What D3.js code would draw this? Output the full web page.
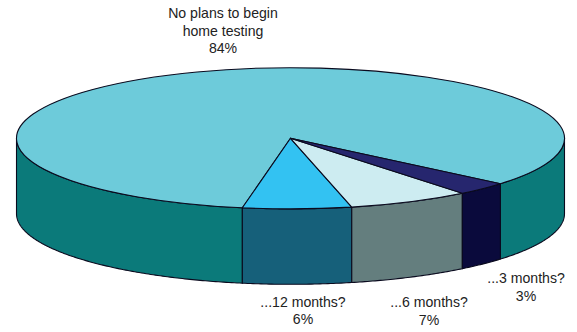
<!DOCTYPE html>
<html><head><meta charset="utf-8">
<script src="https://cdn.jsdelivr.net/npm/d3@7/dist/d3.min.js"></script>
<style>html,body{margin:0;padding:0;background:#fff}svg{display:block}text{font-family:"Liberation Sans",Arial,sans-serif;font-size:14.1px;fill:#222}</style>
</head><body><svg id="c" width="577" height="332"></svg>
<script>
const categories = ["No plans to begin home testing", "...12 months?", "...6 months?", "...3 months?"];
const shownPercent = ["84%", "6%", "7%", "3%"];
const sliceShare = [83.3, 6.4, 7.2, 3.1];
const topColors = ["#6dcbda", "#33c2f2", "#cdecf1", "#26266e"];
const sideColors = ["#0b7a7a", "#16607a", "#647e7e", "#0a0a3c"];
const labelLines = [["No plans to begin", "home testing"], ["...12 months?"], ["...6 months?"], ["...3 months?"]];
const labelAnchors = [[223, 18], [303, 306.5], [429, 307], [526, 283]];

const cx = 290.5, cy = 138.3, rx = 274, ry = 70.6, depth = 75.4, lh = 17.5;
const startDeg = 130;
const svg = d3.select("#c");
// slices run counter-clockwise from the lower right
const pie = d3.pie().sort(null).startAngle(startDeg * Math.PI / 180).endAngle((startDeg - 360) * Math.PI / 180);
const slices = pie(sliceShare);
const px = a => cx + rx * Math.sin(a), py = a => cy - ry * Math.cos(a);

const line = d3.line();
const wall = (a0, a1) => {
  const n = Math.max(2, Math.ceil(Math.abs(a1 - a0) / 0.01));
  const ts = d3.range(n + 1).map(i => a0 + (a1 - a0) * i / n);
  const top = ts.map(t => [px(t), py(t)]);
  const bot = ts.slice().reverse().map(t => [px(t), py(t) + depth]);
  return line(top.concat(bot)) + "Z";
};
const ranges = [];
slices.forEach((s, i) => {
  const lo0 = Math.min(s.startAngle, s.endAngle), hi0 = Math.max(s.startAngle, s.endAngle);
  [-1, 0].forEach(k => {
    const lo = Math.max(lo0, Math.PI / 2 + k * 2 * Math.PI), hi = Math.min(hi0, 3 * Math.PI / 2 + k * 2 * Math.PI);
    if (hi > lo) ranges.push({i, lo, hi});
  });
});
svg.selectAll("path.wall").data(ranges).join("path").attr("class", "wall")
  .attr("d", d => wall(d.lo, d.hi))
  .attr("fill", d => sideColors[d.i]).attr("stroke", "#0a0a1e").attr("stroke-width", 1.1).attr("stroke-linejoin", "round");

const arc = d3.arc().innerRadius(0).outerRadius(rx);
svg.append("g").attr("transform", `translate(${cx},${cy}) scale(1,${ry / rx})`)
  .selectAll("path").data(slices).join("path")
  .attr("d", arc).attr("fill", (d, i) => topColors[i])
  .attr("stroke", "#0a0a1e").attr("stroke-width", 1.1).attr("vector-effect", "non-scaling-stroke").attr("stroke-linejoin", "round");

categories.forEach((c, i) => {
  const [x, y] = labelAnchors[i];
  const t = svg.append("text").attr("text-anchor", "middle");
  labelLines[i].concat(shownPercent[i]).forEach((l, j) => t.append("tspan").attr("x", x).attr("y", y + j * lh).text(l));
});
</script></body></html>
